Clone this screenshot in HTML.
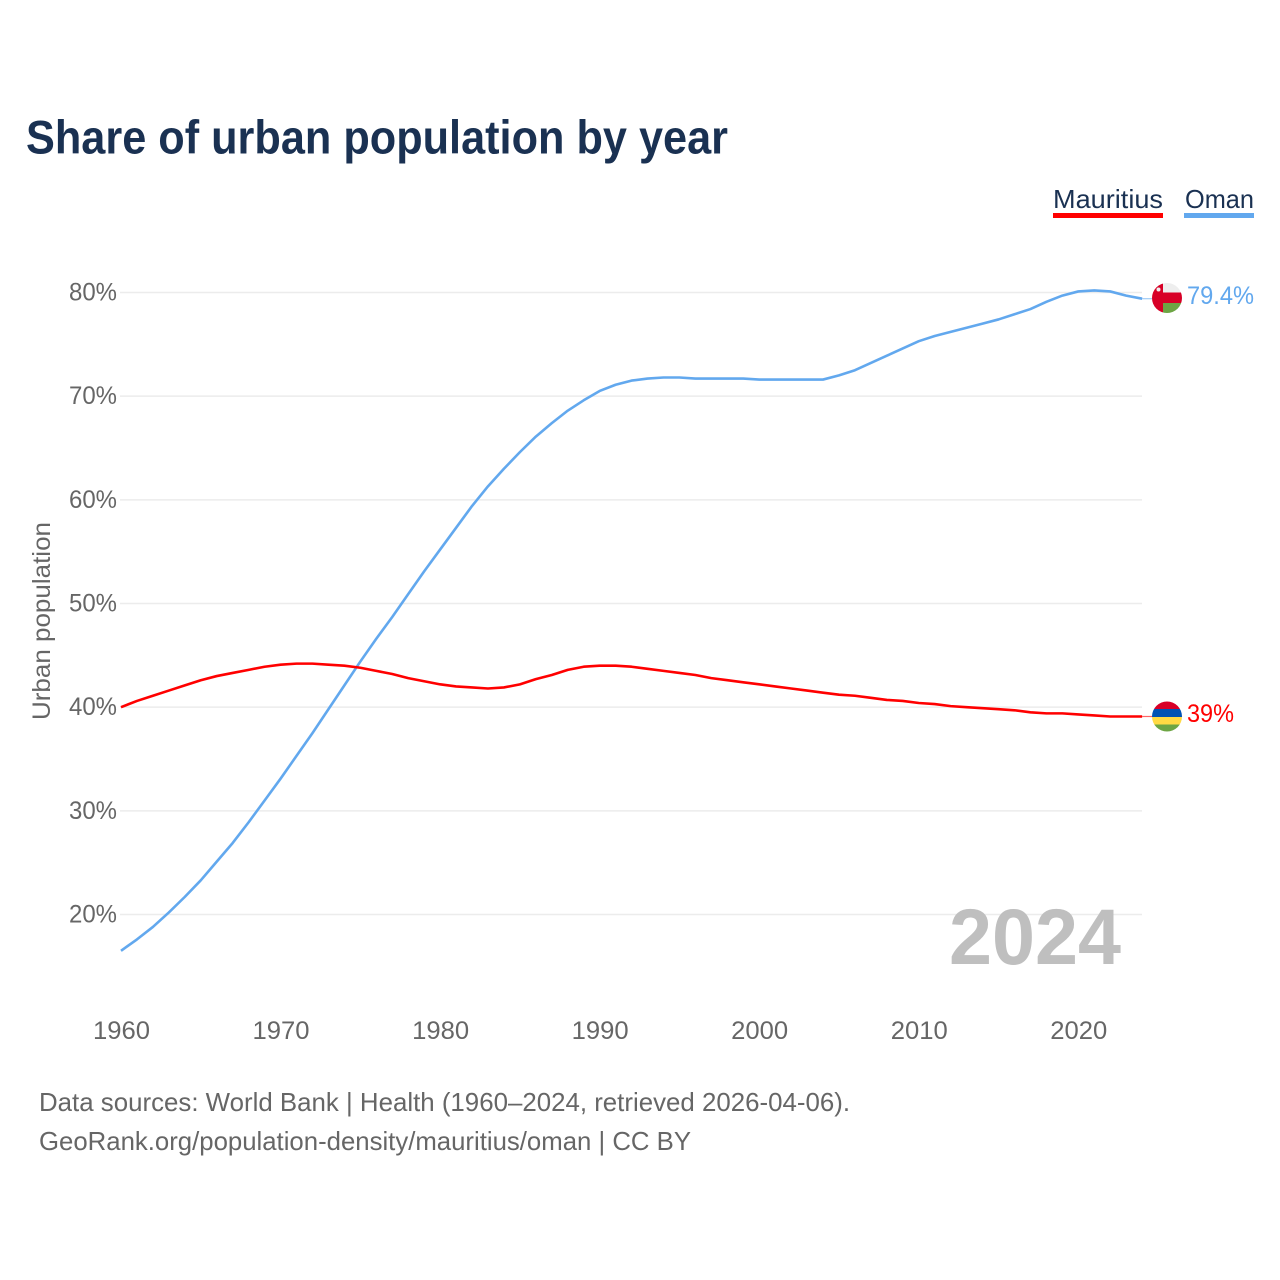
<!DOCTYPE html>
<html lang="en">
<head>
<meta charset="utf-8">
<title>Share of urban population by year</title>
<style>
html,body{margin:0;padding:0;background:#fff;width:1280px;height:1280px;overflow:hidden}
svg{display:block;font-family:"Liberation Sans",sans-serif}
</style>
</head>
<body>
<svg id="chart" xmlns="http://www.w3.org/2000/svg" width="1280" height="1280" viewBox="0 0 1280 1280">
  <defs>
    <clipPath id="clip-oman"><circle cx="1167" cy="298" r="15"/></clipPath>
    <clipPath id="clip-mauritius"><circle cx="1167" cy="716.5" r="15"/></clipPath>
  </defs>
  <text x="26" y="153.5" font-size="47" font-weight="700" fill="#1a3152" textLength="702" lengthAdjust="spacingAndGlyphs">Share of urban population by year</text>

  <g>
    <text x="1053" y="208" font-size="26" fill="#1a3152" textLength="110" lengthAdjust="spacingAndGlyphs">Mauritius</text>
    <rect x="1053" y="213" width="110" height="5" fill="#ff0000"/>
  </g>
  <g>
    <text x="1185" y="208" font-size="26" fill="#1a3152" textLength="69" lengthAdjust="spacingAndGlyphs">Oman</text>
    <rect x="1184" y="213" width="70" height="5" fill="#62a8ee"/>
  </g>

  <g id="grid"></g>
  <g id="y-ticks"></g>
  <g id="x-ticks"></g>
  <text transform="translate(50,621) rotate(-90)" text-anchor="middle" font-size="25" fill="#666" textLength="198" lengthAdjust="spacingAndGlyphs">Urban population</text>

  <text x="949" y="964" font-size="79" font-weight="700" fill="#bfbfbf" textLength="172" lengthAdjust="spacingAndGlyphs">2024</text>

  <g id="series"></g>

  <g clip-path="url(#clip-oman)">
    <rect x="1152" y="283" width="30" height="30" fill="#eeeeee"/>
    <rect x="1163" y="303" width="19" height="10" fill="#6da544"/>
    <rect x="1163" y="292.5" width="19" height="10.5" fill="#d80027"/>
    <rect x="1152" y="283" width="11" height="30" fill="#d80027"/>
    <circle cx="1158.5" cy="289.5" r="2" fill="#eeeeee"/>
  </g>
  <g clip-path="url(#clip-mauritius)">
    <rect x="1152" y="701" width="30" height="8" fill="#d80027"/>
    <rect x="1152" y="709" width="30" height="8" fill="#0052b4"/>
    <rect x="1152" y="717" width="30" height="7.5" fill="#ffda44"/>
    <rect x="1152" y="724.5" width="30" height="8" fill="#6da544"/>
  </g>
  <text id="label-oman" x="1187" y="304" font-size="25" fill="#62a8ee" textLength="67" lengthAdjust="spacingAndGlyphs">79.4%</text>
  <text id="label-mauritius" x="1187" y="722" font-size="25" fill="#ff0000" textLength="47" lengthAdjust="spacingAndGlyphs">39%</text>

  <text x="39" y="1111" font-size="26" fill="#666" textLength="811" lengthAdjust="spacingAndGlyphs">Data sources: World Bank | Health (1960–2024, retrieved 2026-04-06).</text>
  <a><text x="39" y="1150" font-size="26" fill="#666" textLength="652" lengthAdjust="spacingAndGlyphs">GeoRank.org/population-density/mauritius/oman | CC BY</text></a>
</svg>
<script>
const startYear = 1960;
const xTickLabels = [1960, 1970, 1980, 1990, 2000, 2010, 2020];
const yTickLabels = [20, 30, 40, 50, 60, 70, 80];
const omanValues = [16.5,17.6,18.8,20.2,21.7,23.3,25.1,26.9,28.9,31.0,33.1,35.3,37.5,39.8,42.1,44.4,46.6,48.7,50.9,53.1,55.2,57.3,59.4,61.3,63.0,64.6,66.1,67.4,68.6,69.6,70.5,71.1,71.5,71.7,71.8,71.8,71.7,71.7,71.7,71.7,71.6,71.6,71.6,71.6,71.6,72.0,72.5,73.2,73.9,74.6,75.3,75.8,76.2,76.6,77.0,77.4,77.9,78.4,79.1,79.7,80.1,80.2,80.1,79.7,79.4];
const mauritiusValues = [40.0,40.6,41.1,41.6,42.1,42.6,43.0,43.3,43.6,43.9,44.1,44.2,44.2,44.1,44.0,43.8,43.5,43.2,42.8,42.5,42.2,42.0,41.9,41.8,41.9,42.2,42.7,43.1,43.6,43.9,44.0,44.0,43.9,43.7,43.5,43.3,43.1,42.8,42.6,42.4,42.2,42.0,41.8,41.6,41.4,41.2,41.1,40.9,40.7,40.6,40.4,40.3,40.1,40.0,39.9,39.8,39.7,39.5,39.4,39.4,39.3,39.2,39.1,39.1,39.1];

const NS = 'http://www.w3.org/2000/svg';
function xScale(year) { return 121 + (year - 1960) * 15.955; }
function yScale(pct) { return 914.5 - (pct - 20) * 10.367; }
function make(tag, attrs) {
  const el = document.createElementNS(NS, tag);
  for (const k in attrs) el.setAttribute(k, attrs[k]);
  return el;
}
const grid = document.getElementById('grid');
const yTicks = document.getElementById('y-ticks');
const xTicks = document.getElementById('x-ticks');
const series = document.getElementById('series');

yTickLabels.forEach(function (v) {
  const line = make('line', {x1: 120, x2: 1142, y1: yScale(v), y2: yScale(v), stroke: '#ececec', 'stroke-width': 1.5});
  
  
  grid.appendChild(line);
  const t = make('text', {x: 117, y: yScale(v) + 8, 'text-anchor': 'end', 'font-size': 25, fill: '#666', textLength: 48, lengthAdjust: 'spacingAndGlyphs'});
  
  
  t.textContent = v + '%';
  yTicks.appendChild(t);
});
xTickLabels.forEach(function (y) {
  const t = make('text', {x: xScale(y) + 0.5, y: 1039, 'text-anchor': 'middle', 'font-size': 25, fill: '#666', textLength: 57, lengthAdjust: 'spacingAndGlyphs'});
  
  
  t.textContent = y;
  xTicks.appendChild(t);
});
function drawSeries(values, color, name) {
  const pts = values.map(function (v, i) { return xScale(startYear + i).toFixed(2) + ',' + yScale(v).toFixed(2); });
  const path = make('polyline', {points: pts.join(' '), fill: 'none', stroke: color, 'stroke-width': 2.6, 'stroke-linejoin': 'round', 'stroke-linecap': 'butt'});
  
  
  series.appendChild(path);
  const last = values[values.length - 1];
  const lastX = xScale(startYear + values.length - 1);
  const conn = make('line', {x1: lastX, x2: 1153, y1: yScale(last), y2: yScale(last), stroke: color, 'stroke-width': 1.2, opacity: 0.6});
  
  
  series.appendChild(conn);
}
drawSeries(omanValues, '#62a8ee', 'line-oman');
drawSeries(mauritiusValues, '#ff0000', 'line-mauritius');
</script>
</body>
</html>
